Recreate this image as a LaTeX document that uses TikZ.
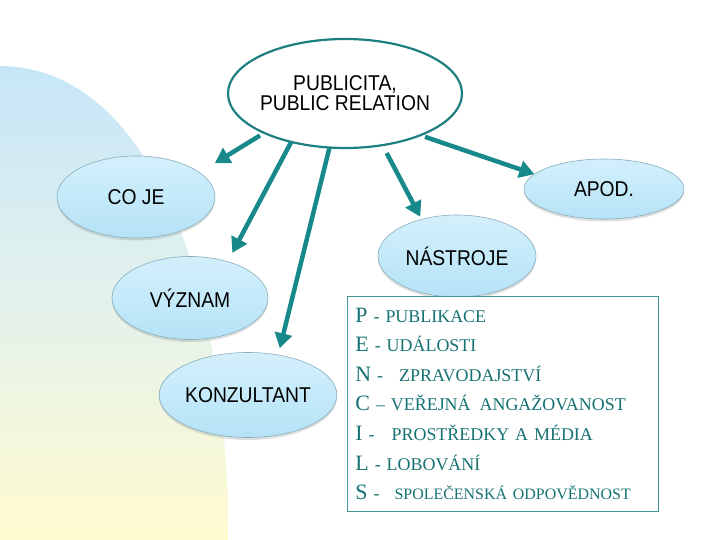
\documentclass[tikz,border=0pt]{standalone}
\usepackage{fontspec}
\setmainfont{Liberation Sans}[FakeStretch=0.9]
\newfontfamily\penfont{Liberation Serif}
\usepackage{xcolor}
\usepackage{tikz}
\usetikzlibrary{arrows.meta,shapes.geometric,shadows}
\definecolor{rim}{HTML}{1E7F80}
\definecolor{arrowteal}{HTML}{17898A}
\definecolor{pentext}{HTML}{167272}
\definecolor{boxline}{HTML}{3E9696}
\definecolor{bubbletop}{HTML}{D4EFFB}
\definecolor{bubblemid}{HTML}{C4EAFA}
\definecolor{bubblebot}{HTML}{B6E2F6}
\definecolor{bubblerim}{HTML}{86AEBB}
\definecolor{blobtop}{HTML}{C6E6F8}
\definecolor{blobmid}{HTML}{E4F2EC}
\definecolor{blobbot}{HTML}{FFFBCF}
\newcommand\penletter[1]{{\fontsize{22}{29.7}\selectfont #1}}

\begin{document}
\begin{tikzpicture}[x=1bp,y=-1bp,>={Triangle[length=15bp,width=17bp]},
  bubble/.style={ellipse,draw=bubblerim,line width=0.6bp,top color=bubbletop,bottom color=bubblebot,middle color=bubblemid,drop shadow={opacity=0.25,shadow xshift=0bp,shadow yshift=-2.5bp},inner sep=0pt,outer sep=0pt,font=\fontsize{21.5}{20}\selectfont},
  arr/.style={->,draw=arrowteal,fill=arrowteal,line width=4.5bp}]
\useasboundingbox (0,0) rectangle (720,540);
% background
\shade[top color=blobtop,bottom color=blobbot,middle color=blobmid] (0,540) -- (0,66) .. controls (115,66) and (215,200) .. (228,500) -- (228,540) -- cycle;
\node[ellipse,draw=rim,line width=2.2bp,fill=white,minimum width=234bp,minimum height=109bp,inner sep=-6bp,outer sep=0pt,align=center,font=\fontsize{21.5}{20}\selectfont] (pr) at (345,93.5) {PUBLICITA,\\PUBLIC RELATION};
\node[bubble,minimum width=158bp,minimum height=82bp] (coje) at (136,197) {CO JE};
\node[bubble,minimum width=160bp,minimum height=60bp] (apod) at (604,189) {APOD.};
\node[bubble,minimum width=158bp,minimum height=82bp] (nastroje) at (457,256) {NÁSTROJE};
\node[bubble,minimum width=156bp,minimum height=83bp] (vyznam) at (190,298) {VÝZNAM};
\node[bubble,minimum width=163bp,minimum height=85bp] (konzultant) at (248,395) {KONZULTANT};
\node[draw=boxline,line width=0.8bp,fill=white,anchor=north west,minimum width=311bp,minimum height=215bp,text width=295bp,inner xsep=8bp,align=left,text=pentext,font=\penfont\fontsize{18}{29.7}\selectfont] (pencils) at (347,296) {%
\penletter{P} - PUBLIKACE\\
\penletter{E} - UDÁLOSTI\\
\penletter{N} -\hspace{16bp}ZPRAVODAJSTVÍ\\
\penletter{C} – VEŘEJNÁ\hspace{9bp}ANGAŽOVANOST\\
\penletter{I} -\hspace{17bp}PROSTŘEDKY A MÉDIA\\
\penletter{L} - LOBOVÁNÍ\\
\penletter{S} -\hspace{15bp}{\fontsize{16}{29.7}\selectfont SPOLEČENSKÁ ODPOVĚDNOST}};
% arrows
\draw[arr,shorten <=5bp,shorten >=18bp] (pr.206) -- (coje.21);
\draw[arr,shorten >=10bp] (pr.222) -- (vyznam.44);
\draw[arr,shorten >=7bp] (pr.254) -- (konzultant.53);
\draw[arr,shorten <=9bp,shorten >=3bp] (pr.306) -- (nastroje.134);
\draw[arr,shorten <=5bp] (pr.331) -- (apod.168);
\end{tikzpicture}
\end{document}
